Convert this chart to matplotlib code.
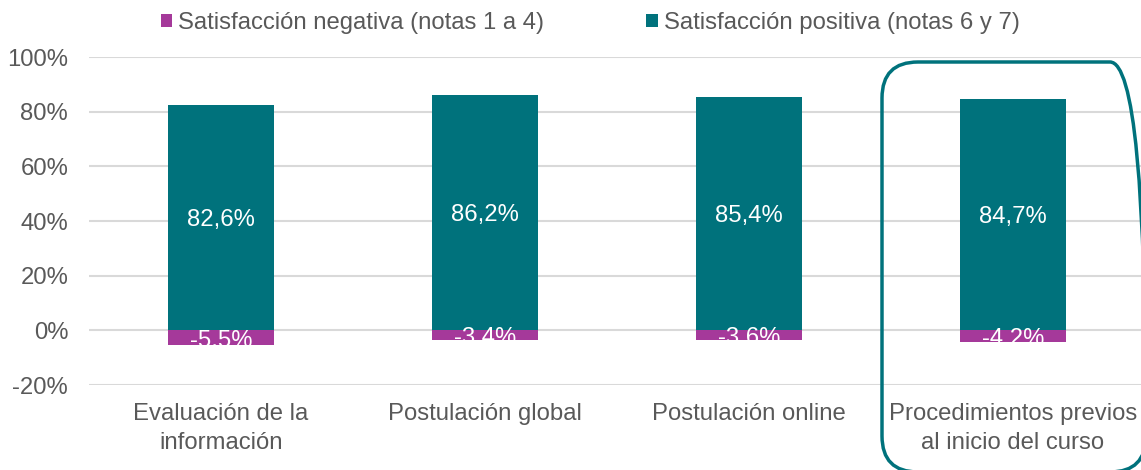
import matplotlib
matplotlib.use("Agg")
import matplotlib.pyplot as plt
from matplotlib.patches import FancyBboxPatch
import numpy as np

plt.rcParams['font.family'] = ['Liberation Sans', 'DejaVu Sans']

# --- DATA ---
categories = ["Evaluación de la\ninformación", "Postulación global",
              "Postulación online", "Procedimientos previos\nal inicio del curso"]
positive = [82.6, 86.2, 85.4, 84.7]
negative = [-5.5, -3.4, -3.6, -4.2]
yticks = [-20, 0, 20, 40, 60, 80, 100]

TEAL = '#00727C'
PURPLE = '#A5399A'
GREY = '#595959'

W, H = 1141, 470
fig = plt.figure(figsize=(W / 100, H / 100), dpi=100)
# axes ends exactly at the right canvas edge (category slot = 264 px)
ax = fig.add_axes([89 / W, 85 / H, (W - 89) / W, 328 / H])

x = np.arange(len(categories))
ax.bar(x, negative, width=0.4, color=PURPLE, zorder=2,
       label='Satisfacción negativa (notas 1 a 4)')
ax.bar(x, positive, width=0.4, color=TEAL, zorder=2,
       label='Satisfacción positiva (notas 6 y 7)')

for xi, p, n in zip(x, positive, negative):
    ax.text(xi, p / 2 - 1.0, f"{p:.1f}%".replace('.', ','), ha='center', va='center',
            color='white', fontsize=17.2, zorder=3)
    ax.text(xi, n / 2 - 1.0, f"{n:.1f}%".replace('.', ','), ha='center', va='center',
            color='white', fontsize=17.2, zorder=3)

ax.set_xlim(-0.5, -0.5 + (W - 89) / 264)
ax.set_ylim(-20, 100)
ax.set_yticks(yticks)
ax.set_yticklabels([f"{t}%" for t in yticks])
ax.set_xticks(x)
ax.set_xticklabels(categories, linespacing=1.4)
ax.tick_params(axis='both', length=0, colors=GREY, labelsize=17.2)
ax.tick_params(axis='x', pad=13)
ax.tick_params(axis='y', pad=15)
ax.grid(axis='y', color='#D9D9D9', linewidth=1.5, zorder=0)
ax.set_axisbelow(True)
for s in ax.spines.values():
    s.set_visible(False)

leg = fig.legend(loc='center', bbox_to_anchor=(590 / W, 1 - 23 / H), ncol=2,
                 frameon=False, fontsize=17.2, handlelength=0.5, handleheight=0.5,
                 handletextpad=0.22, columnspacing=4.3)
for t in leg.get_texts():
    t.set_color(GREY)

# highlight box around the last category, in a pixel-scaled overlay (clipped to canvas)
ov = fig.add_axes([0, 0, 1, 1], zorder=5)
ov.set_xlim(0, W)
ov.set_ylim(0, H)
ov.axis('off')
ov.patch.set_visible(False)
box = FancyBboxPatch((882, -2), 264, 410,
                     boxstyle="round,pad=0,rounding_size=36",
                     fill=False, edgecolor=TEAL, linewidth=2.5)
ov.add_patch(box)

fig.savefig("out.png", dpi=100)
